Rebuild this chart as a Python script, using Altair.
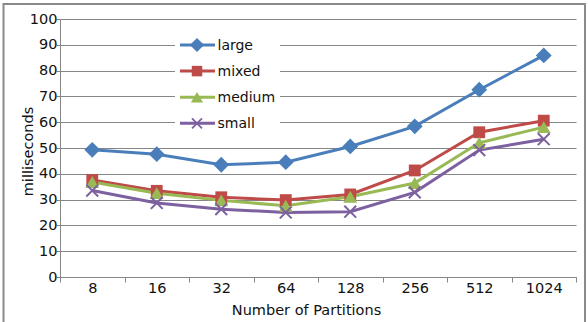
import altair as alt
import pandas as pd

partitions = ["8", "16", "32", "64", "128", "256", "512", "1024"]
series = ["large", "mixed", "medium", "small"]
large = [49.3, 47.6, 43.5, 44.5, 50.6, 58.4, 72.6, 85.9]
mixed = [37.6, 33.4, 30.9, 29.8, 32.0, 41.3, 56.1, 60.6]
medium = [36.8, 32.5, 29.7, 27.6, 31.1, 36.4, 52.0, 58.1]
small = [33.5, 28.7, 26.3, 25.0, 25.3, 32.8, 49.2, 53.4]
y_ticks = [0, 10, 20, 30, 40, 50, 60, 70, 80, 90, 100]
colors = ["#4A7EBB", "#BE4B48", "#98B954", "#7D60A0"]
shapes = ["diamond", "square", "triangle-up", "M-1,-1L1,1M-1,1L1,-1"]
plot_sizes = [250, 140, 190, 140]
legend_sizes = [200, 110, 150, 100]

rows = []
for name, vals in zip(series, [large, mixed, medium, small]):
    for p, v in zip(partitions, vals):
        rows.append({"series": name, "partitions": p, "ms": v})
df = pd.DataFrame(rows)
leg = pd.DataFrame({"series": series, "idx": list(range(len(series)))})
one = pd.DataFrame({"k": [0]})

FONT = "DejaVu Sans"
color = alt.Color("series:N", scale=alt.Scale(domain=series, range=colors), legend=None)
shape = alt.Shape("series:N", scale=alt.Scale(domain=series, range=shapes), legend=None)
xenc = alt.X("partitions:N", sort=partitions, bandPosition=0.5,
             scale=alt.Scale(type="band", paddingInner=0, paddingOuter=0),
             axis=alt.Axis(title="Number of Partitions", labelAngle=0, tickBand="extent",
                           domainColor="#868686", tickColor="#868686", tickSize=5,
                           labelFont=FONT, labelFontSize=14.5, labelColor="#111",
                           labelPadding=-1, titleFont=FONT, titleFontSize=14.5,
                           titleFontWeight="normal", titleColor="#111",
                           titleX=246, titleY=37, titleBaseline="alphabetic", grid=False))
yscale = alt.Scale(domain=[0, 100], nice=False)
yenc = alt.Y("ms:Q", scale=yscale,
             axis=alt.Axis(title="milliseconds", values=y_ticks, grid=True,
                           gridColor="#868686", gridWidth=1.2, domainColor="#868686",
                           tickColor="#868686", tickSize=4, labelPadding=-1,
                           labelFont=FONT, labelFontSize=14.5, labelColor="#111",
                           titleFont=FONT, titleFontSize=14.5, titleFontWeight="normal",
                           titleColor="#111", titleX=-28, titleY=132,
                           titleBaseline="alphabetic"))

layers = [alt.Chart(df).mark_line(strokeWidth=3).encode(x=xenc, y=yenc, color=color,
                                                        detail="series:N")]
for name, sz in zip(series, plot_sizes):
    is_x = name == "small"
    layers.append(
        alt.Chart(df).transform_filter(alt.datum.series == name).mark_point(
            filled=not is_x, opacity=1, size=sz, strokeWidth=2 if is_x else 0.5
        ).encode(x=xenc, y=yenc, color=color, shape=shape))
main = alt.layer(*layers)

ly = alt.Y("idx:Q", scale=alt.Scale(domain=[0, 3], range=[26, 104.3]), axis=None)
llayers = [alt.Chart(leg).mark_rule(strokeWidth=3).encode(
    x=alt.value(120), x2=alt.value(155), y=ly, color=color)]
for name, sz in zip(series, legend_sizes):
    is_x = name == "small"
    llayers.append(
        alt.Chart(leg).transform_filter(alt.datum.series == name).mark_point(
            filled=not is_x, opacity=1, size=sz, strokeWidth=1.8 if is_x else 0.5
        ).encode(x=alt.value(137), y=ly, color=color, shape=shape))
llayers.append(alt.Chart(leg).mark_text(align="left", baseline="alphabetic", dy=4.5, font=FONT,
                                        fontSize=14, color="#111").encode(
    x=alt.value(157.5), y=ly, text="series:N"))
legend = alt.layer(*llayers)

box = alt.Chart(one).mark_rect(color="white").encode(
    x=alt.value(115), x2=alt.value(220), y=alt.value(11), y2=alt.value(117))
border = alt.Chart(one).mark_rect(filled=False, stroke="#8a8a8a", strokeWidth=2).encode(
    x=alt.value(-56.5), x2=alt.value(525), y=alt.value(-15), y2=alt.value(305))

chart = alt.layer(border, box, main, legend).resolve_scale(y="independent").properties(
    width=516, height=258,
    autosize=alt.AutoSizeParams(type="none"),
    padding={"left": 60, "top": 19, "right": 12, "bottom": 45},
    background="white",
).configure_view(stroke=None)

chart.save("out.html", embed_options={"renderer": "svg", "actions": False})
